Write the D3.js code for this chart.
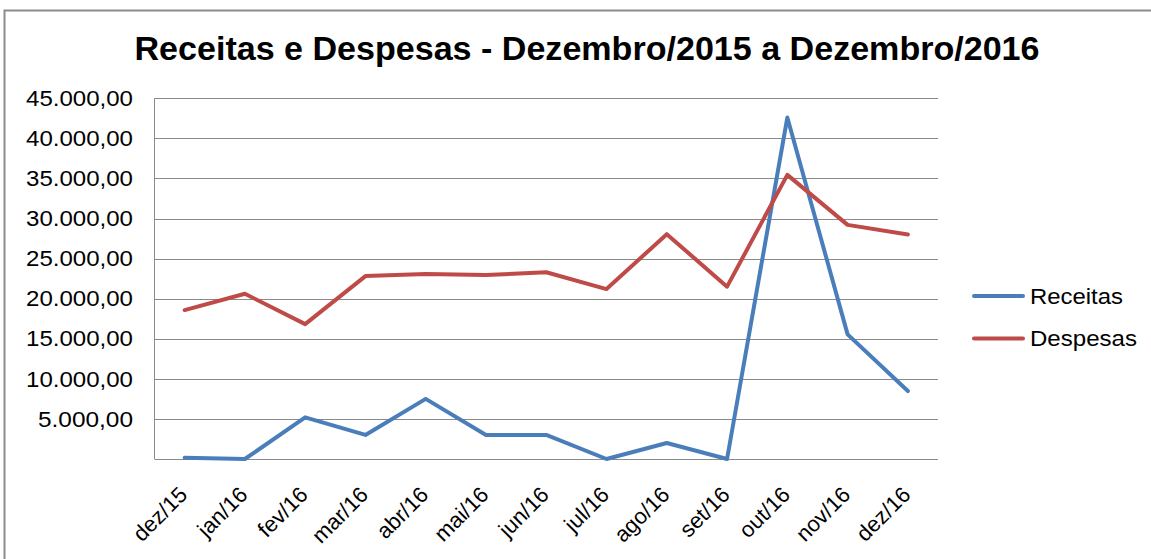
<!DOCTYPE html>
<html>
<head>
<meta charset="utf-8">
<script src="https://cdn.jsdelivr.net/npm/d3@7"></script>
<style>
  body { margin: 0; background: #fff; }
  svg { display: block; font-family: "Liberation Sans", Arial, sans-serif; }
</style>
</head>
<body>
<div id="chart"></div>
<script>
// --- Données ---
const months = ["dez/15", "jan/16", "fev/16", "mar/16", "abr/16", "mai/16", "jun/16",
  "jul/16", "ago/16", "set/16", "out/16", "nov/16", "dez/16"];
const receitas = [150, 0, 5200, 3000, 7500, 3000, 3000, 0, 2000, 0, 42600, 15550, 8480];
const despesas = [18580, 20610, 16830, 22820, 23070, 22950, 23300, 21200, 28050, 21500, 35450, 29210, 28020];
const yTicks = [5000, 10000, 15000, 20000, 25000, 30000, 35000, 40000, 45000];

const width = 1151, height = 559;
const margin = { left: 154.5, right: 938, top: 98.3, bottom: 459 };

const svg = d3.select("#chart").append("svg")
  .attr("width", width).attr("height", height);

// --- Cadre ---
svg.append("rect")
  .attr("x", 4.5).attr("y", 10.5)
  .attr("width", width + 20).attr("height", height + 20)
  .attr("fill", "none").attr("stroke", "#8c8c8c").attr("stroke-width", 2);

// --- Échelles ---
const x = d3.scalePoint().domain(months)
  .range([margin.left, margin.right]).padding(0.5);
const y = d3.scaleLinear().domain([0, 45000]).range([margin.bottom, margin.top]);

// --- Grille ---
svg.append("g").selectAll("line").data(yTicks).join("line")
  .attr("x1", margin.left).attr("x2", margin.right)
  .attr("y1", d => Math.round(y(d)) + 0.5).attr("y2", d => Math.round(y(d)) + 0.5)
  .attr("stroke", "#8a8a8a").attr("stroke-width", 1);

// axes lines
svg.append("line")
  .attr("x1", margin.left).attr("x2", margin.left)
  .attr("y1", margin.top).attr("y2", margin.bottom)
  .attr("stroke", "#8a8a8a");
svg.append("line")
  .attr("x1", margin.left).attr("x2", margin.right)
  .attr("y1", Math.round(y(0)) + 0.5).attr("y2", Math.round(y(0)) + 0.5)
  .attr("stroke", "#8a8a8a");

// --- Étiquettes Y ---
const fmt = d => d3.format(",.2f")(d).replace(/,/g, "#").replace(".", ",").replace(/#/g, ".");
svg.append("g").selectAll("text").data(yTicks).join("text")
  .attr("x", 133).attr("y", d => y(d))
  .attr("dy", "0.35em")
  .attr("text-anchor", "end")
  .style("font-size", "22px")
  .attr("textLength", d => d >= 10000 ? 107 : 95)
  .attr("lengthAdjust", "spacingAndGlyphs")
  .attr("fill", "#000")
  .text(fmt);

// --- Étiquettes X ---
svg.append("g").selectAll("text").data(months).join("text")
  .attr("text-anchor", "end")
  .attr("transform", d => `translate(${x(d) + 4},${496}) rotate(-45)`)
  .style("font-size", "22px")
  .attr("fill", "#000")
  .text(d => d);

// --- Séries ---
const series = [
  { name: "Receitas", values: receitas, color: "#4A7EBB", w: 93 },
  { name: "Despesas", values: despesas, color: "#BE4B48", w: 107 }
];
const line = d3.line().x((d, i) => x(months[i])).y(d => y(d));

svg.append("g").selectAll("path").data(series).join("path")
  .attr("d", d => line(d.values))
  .attr("fill", "none")
  .attr("stroke", d => d.color)
  .attr("stroke-width", 4)
  .attr("stroke-linejoin", "round")
  .attr("stroke-linecap", "round");

// --- Légende ---
const legend = svg.append("g").selectAll("g").data(series).join("g")
  .attr("transform", (d, i) => `translate(974,${296 + i * 42.5})`);
legend.append("line")
  .attr("x1", 0).attr("x2", 49)
  .attr("stroke", d => d.color).attr("stroke-width", 4).attr("stroke-linecap", "round");
legend.append("text")
  .attr("x", 56).attr("dy", "0.35em")
  .style("font-size", "22px")
  .attr("textLength", d => d.w).attr("lengthAdjust", "spacingAndGlyphs")
  .text(d => d.name);

// --- Titre ---
svg.append("text")
  .attr("x", 587).attr("y", 60)
  .attr("text-anchor", "middle")
  .style("font-size", "33px").style("font-weight", "bold")
  .attr("textLength", 905).attr("lengthAdjust", "spacingAndGlyphs")
  .text("Receitas e Despesas - Dezembro/2015 a Dezembro/2016");
</script>
</body>
</html>
